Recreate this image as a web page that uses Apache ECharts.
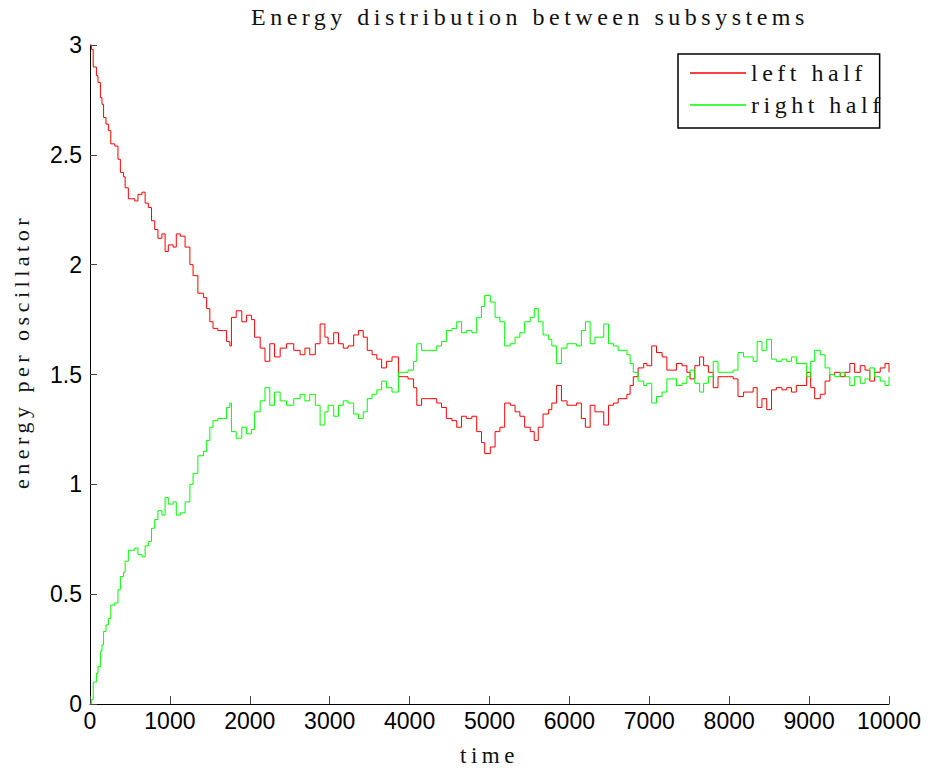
<!DOCTYPE html>
<html>
<head>
<meta charset="utf-8">
<script src="https://cdn.jsdelivr.net/npm/echarts@6/dist/echarts.min.js"></script>
<style>
html, body { margin: 0; padding: 0; background: #fff; }
#chart { width: 933px; height: 772px; }
/* spaced-out serif text like the LaTeX labels */
#chart text[style*="Liberation Serif"] { letter-spacing: 4.5px; }
</style>
</head>
<body>
<div id="chart"></div>
<script>
var timeSteps = [
    0, 20, 40, 80, 100, 130, 150, 170, 200, 230,
    260, 310, 350, 380, 420, 440, 480, 520, 560, 600,
    650, 690, 730, 770, 810, 850, 900, 940, 980, 1040,
    1080, 1130, 1190, 1250, 1290, 1350, 1420, 1460, 1500, 1540,
    1600, 1670, 1710, 1750, 1770, 1830, 1900, 1960, 2020, 2060,
    2130, 2190, 2250, 2310, 2380, 2460, 2550, 2630, 2690, 2750,
    2820, 2880, 2940, 2980, 3050, 3110, 3170, 3230, 3300, 3360,
    3420, 3470, 3530, 3590, 3650, 3710, 3780, 3820, 3860, 3920,
    3980, 4050, 4090, 4150, 4210, 4280, 4340, 4400, 4460, 4530,
    4590, 4650, 4710, 4780, 4840, 4900, 4940, 5010, 5070, 5130,
    5190, 5260, 5320, 5380, 5440, 5510, 5560, 5610, 5670, 5740,
    5780, 5840, 5900, 5970, 6030, 6090, 6150, 6200, 6260, 6320,
    6380, 6430, 6490, 6550, 6610, 6670, 6720, 6760, 6800, 6860,
    6930, 6970, 7030, 7090, 7160, 7220, 7280, 7340, 7410, 7470,
    7510, 7570, 7630, 7680, 7740, 7800, 7860, 7930, 7990, 8050,
    8110, 8180, 8240, 8300, 8350, 8410, 8470, 8530, 8590, 8660,
    8720, 8780, 8840, 8910, 8970, 9020, 9070, 9140, 9200, 9260,
    9320, 9390, 9450, 9510, 9570, 9640, 9700, 9760, 9820, 9890,
    9950, 10000
];

var leftHalf = [
    3.00, 2.98, 2.90, 2.86, 2.83, 2.76, 2.73, 2.67, 2.64, 2.61,
    2.55, 2.54, 2.48, 2.42, 2.40, 2.35, 2.30, 2.30, 2.29, 2.32,
    2.33, 2.28, 2.26, 2.20, 2.16, 2.12, 2.14, 2.06, 2.09, 2.08,
    2.14, 2.13, 2.08, 2.00, 1.95, 1.87, 1.85, 1.80, 1.74, 1.71,
    1.70, 1.70, 1.65, 1.63, 1.76, 1.79, 1.74, 1.77, 1.75, 1.67,
    1.62, 1.56, 1.64, 1.58, 1.62, 1.64, 1.61, 1.59, 1.62, 1.59,
    1.64, 1.73, 1.67, 1.64, 1.69, 1.64, 1.62, 1.63, 1.68, 1.70,
    1.67, 1.61, 1.59, 1.57, 1.53, 1.56, 1.58, 1.58, 1.49, 1.49,
    1.48, 1.44, 1.36, 1.39, 1.39, 1.39, 1.37, 1.35, 1.30, 1.29,
    1.26, 1.31, 1.30, 1.31, 1.24, 1.19, 1.14, 1.17, 1.24, 1.26,
    1.37, 1.36, 1.33, 1.31, 1.26, 1.24, 1.20, 1.26, 1.32, 1.34,
    1.37, 1.45, 1.38, 1.36, 1.36, 1.37, 1.30, 1.26, 1.36, 1.33,
    1.33, 1.27, 1.36, 1.37, 1.39, 1.39, 1.41, 1.45, 1.49, 1.53,
    1.55, 1.54, 1.63, 1.60, 1.58, 1.52, 1.52, 1.55, 1.54, 1.51,
    1.48, 1.54, 1.58, 1.54, 1.51, 1.44, 1.49, 1.49, 1.49, 1.48,
    1.40, 1.42, 1.42, 1.44, 1.35, 1.39, 1.34, 1.43, 1.44, 1.43,
    1.44, 1.42, 1.45, 1.45, 1.51, 1.44, 1.39, 1.41, 1.47, 1.50,
    1.51, 1.49, 1.51, 1.55, 1.51, 1.54, 1.52, 1.47, 1.51, 1.53,
    1.55, 1.51
];

var rightHalf = [
    0.00, 0.02, 0.10, 0.14, 0.17, 0.24, 0.27, 0.33, 0.36, 0.39,
    0.45, 0.46, 0.52, 0.58, 0.60, 0.65, 0.70, 0.70, 0.71, 0.68,
    0.67, 0.72, 0.74, 0.80, 0.84, 0.88, 0.86, 0.94, 0.91, 0.92,
    0.86, 0.87, 0.92, 1.00, 1.05, 1.13, 1.15, 1.20, 1.26, 1.29,
    1.30, 1.30, 1.35, 1.37, 1.24, 1.21, 1.26, 1.23, 1.25, 1.33,
    1.38, 1.44, 1.36, 1.42, 1.38, 1.36, 1.39, 1.41, 1.38, 1.41,
    1.36, 1.27, 1.33, 1.36, 1.31, 1.36, 1.38, 1.37, 1.32, 1.30,
    1.33, 1.39, 1.41, 1.43, 1.47, 1.44, 1.42, 1.42, 1.51, 1.51,
    1.52, 1.56, 1.64, 1.61, 1.61, 1.61, 1.63, 1.65, 1.70, 1.71,
    1.74, 1.69, 1.70, 1.69, 1.76, 1.81, 1.86, 1.83, 1.76, 1.74,
    1.63, 1.64, 1.67, 1.69, 1.74, 1.76, 1.80, 1.74, 1.68, 1.66,
    1.63, 1.55, 1.62, 1.64, 1.64, 1.63, 1.70, 1.74, 1.64, 1.67,
    1.67, 1.73, 1.64, 1.63, 1.61, 1.61, 1.59, 1.55, 1.51, 1.47,
    1.45, 1.46, 1.37, 1.40, 1.42, 1.48, 1.48, 1.45, 1.46, 1.49,
    1.52, 1.46, 1.42, 1.46, 1.49, 1.56, 1.51, 1.51, 1.51, 1.52,
    1.60, 1.58, 1.58, 1.56, 1.65, 1.61, 1.66, 1.57, 1.56, 1.57,
    1.56, 1.58, 1.55, 1.55, 1.49, 1.56, 1.61, 1.59, 1.53, 1.50,
    1.49, 1.51, 1.49, 1.45, 1.49, 1.46, 1.48, 1.53, 1.49, 1.47,
    1.45, 1.49
];

var seriesNames = ['left half', 'right half'];
var seriesColors = ['#ff0000', '#00ff00'];

function pairs(values) {
    return timeSteps.map(function (t, i) {
        return [t, values[i]];
    });
}

var serifFont = 'Liberation Serif';
var tickFont = '"Liberation Sans", Arial, sans-serif';

var el = document.getElementById('chart');
var myChart = echarts.init(el, null, { renderer: 'svg' });

var option = {
    backgroundColor: '#fff',
    animation: false,
    title: {
        text: 'Energy distribution between subsystems',
        left: 251,
        top: 5,
        padding: 0,
        textStyle: {
            fontFamily: serifFont,
            fontSize: 24,
            fontWeight: 'normal',
            color: '#111'
        }
    },
    legend: {
        data: seriesNames,
        orient: 'vertical',
        left: 678,
        top: 54,
        padding: [7, 40, 11, 12],
        itemGap: 8,
        itemWidth: 56,
        itemHeight: 1.5,
        icon: 'rect',
        borderColor: '#000',
        borderWidth: 1.5,
        backgroundColor: '#fff',
        textStyle: {
            fontFamily: serifFont,
            fontSize: 24,
            lineHeight: 24,
            color: '#111'
        }
    },
    grid: {
        left: 90,
        right: 44,
        top: 45,
        bottom: 67
    },
    xAxis: {
        type: 'value',
        min: 0,
        max: 10000,
        interval: 1000,
        name: 'time',
        nameLocation: 'middle',
        nameGap: 40,
        nameTextStyle: {
            fontFamily: serifFont,
            fontSize: 23,
            color: '#111'
        },
        axisLine: { lineStyle: { color: '#000', width: 1 } },
        axisTick: { inside: true, length: 8, lineStyle: { color: '#444' } },
        axisLabel: {
            fontFamily: tickFont,
            fontSize: 23,
            color: '#000',
            margin: 5,
            formatter: function (v) { return String(v); }
        },
        splitLine: { show: false }
    },
    yAxis: {
        type: 'value',
        min: 0,
        max: 3,
        interval: 0.5,
        name: 'energy per oscillator',
        nameLocation: 'middle',
        nameGap: 58,
        nameTextStyle: {
            fontFamily: serifFont,
            fontSize: 22,
            color: '#111',
            padding: [0, 0, 0, 46]
        },
        axisLine: { show: true, lineStyle: { color: '#000', width: 1 } },
        axisTick: { show: true, inside: true, length: 7, lineStyle: { color: '#444' } },
        axisLabel: {
            fontFamily: tickFont,
            fontSize: 23,
            color: '#000',
            margin: 8,
            formatter: function (v) { return String(v); }
        },
        splitLine: { show: false }
    },
    series: seriesNames.map(function (name, k) {
        return {
            name: name,
            type: 'line',
            step: 'end',
            symbol: 'none',
            data: pairs(k === 0 ? leftHalf : rightHalf),
            itemStyle: { color: seriesColors[k] },
            lineStyle: { color: seriesColors[k], width: 1 }
        };
    })
};

myChart.setOption(option);
</script>
</body>
</html>
